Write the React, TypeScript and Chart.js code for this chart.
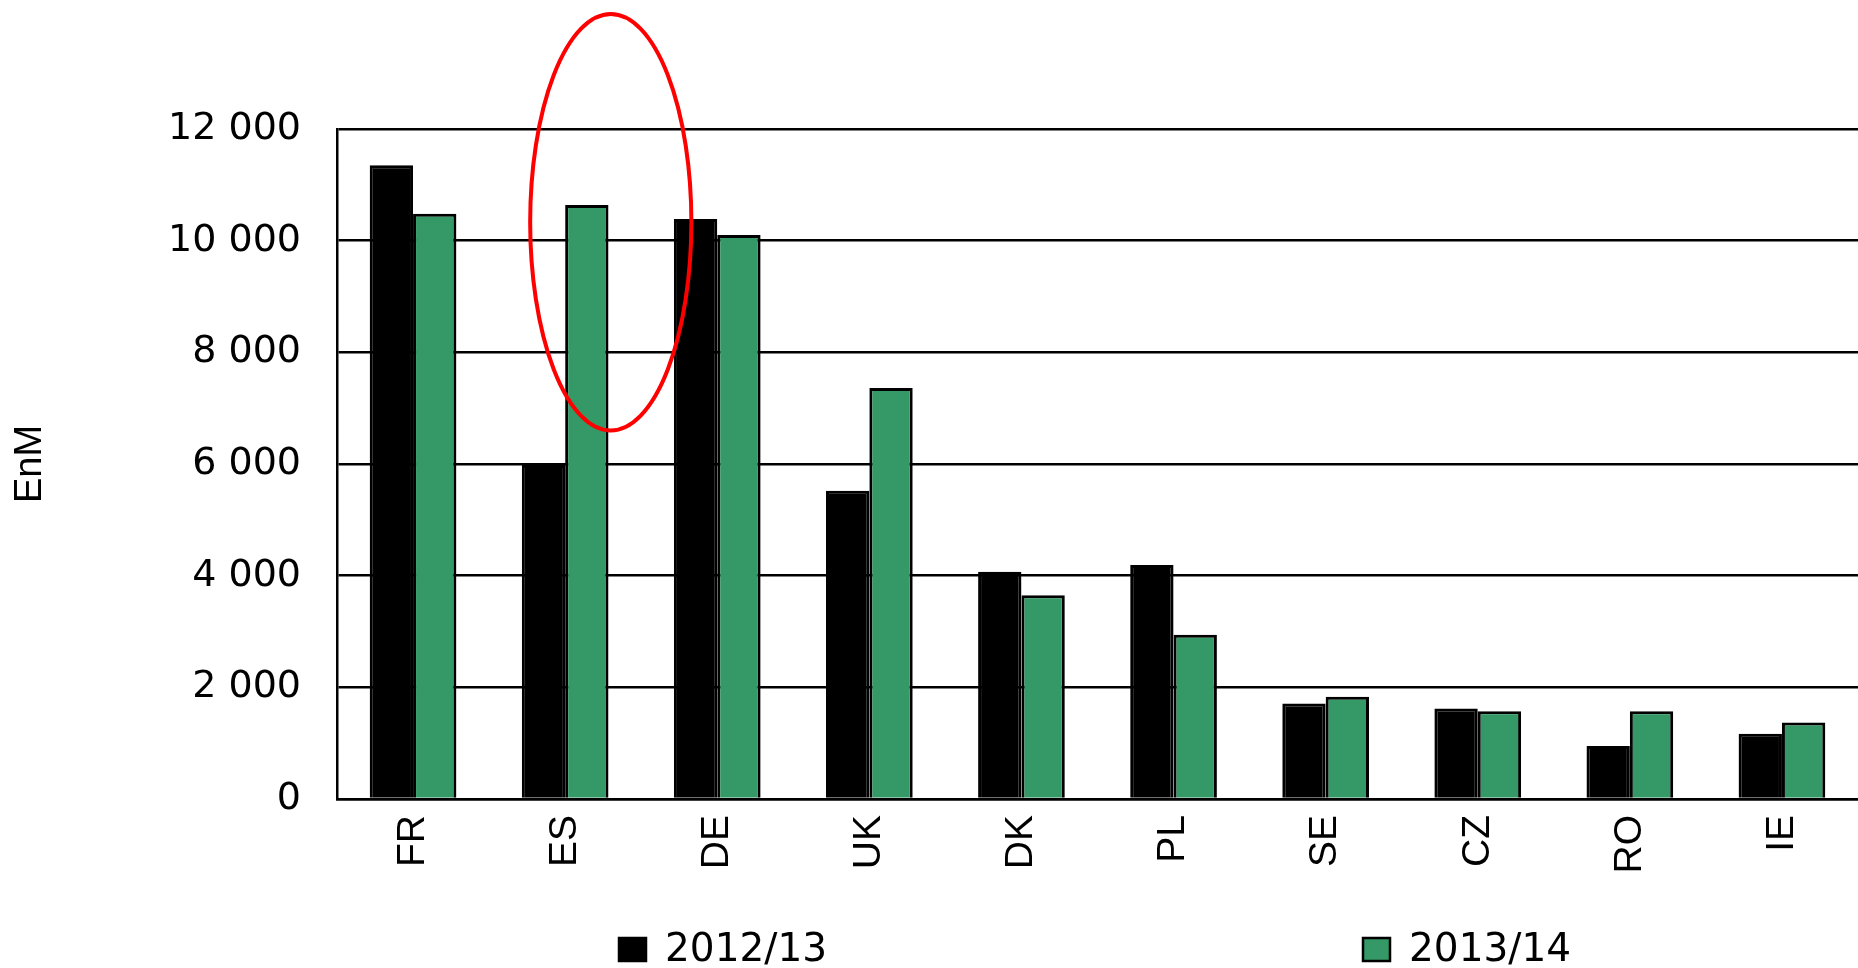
import React, { useEffect, useRef } from 'react';
import { Chart, registerables } from 'chart.js';

Chart.register(...registerables);

const categories = ['FR', 'ES', 'DE', 'UK', 'DK', 'PL', 'SE', 'CZ', 'RO', 'IE'];
const seriesALabel = '2012/13';
const seriesBLabel = '2013/14';
const seriesA = [11350, 5980, 10390, 5520, 4070, 4190, 1710, 1620, 950, 1170];
const seriesB = [10480, 10640, 10100, 7360, 3650, 2940, 1830, 1570, 1570, 1370];
const yMin = 0;
const yMax = 12000;
const yStep = 2000;
const yAxisTitle = 'EnM';
const highlightIndex = 1;

const colorA = '#000000';
const colorB = '#349966';

const fmtThousands = (v: number) => {
  const s = String(Math.round(v));
  return s.length > 3 ? s.slice(0, -3) + ' ' + s.slice(-3) : s;
};

const legendPlugin = {
  id: 'customLegend',
  afterDraw(chart: any) {
    const ctx = chart.ctx;
    const items = [
      { label: seriesALabel, color: colorA, x: 619 },
      { label: seriesBLabel, color: colorB, x: 1363 },
    ];
    ctx.save();
    ctx.font = '39px "DejaVu Sans", "Liberation Sans", sans-serif';
    ctx.textBaseline = 'middle';
    ctx.textAlign = 'left';
    items.forEach((it) => {
      ctx.fillStyle = it.color;
      ctx.strokeStyle = '#000';
      ctx.lineWidth = 2.5;
      ctx.fillRect(it.x, 938, 27, 23);
      ctx.strokeRect(it.x, 938, 27, 23);
      ctx.fillStyle = '#000';
      ctx.fillText(it.label, it.x + 46, 951);
    });
    ctx.restore();
  },
};

const ellipsePlugin = {
  id: 'highlightEllipse',
  afterDatasetsDraw(chart: any) {
    const xs = chart.scales.x;
    const ys = chart.scales.y;
    const cw = (xs.right - xs.left) / categories.length;
    const cx = xs.getPixelForValue(highlightIndex) + 0.3 * cw;
    const cy = ys.getPixelForValue(10330);
    const ry = ys.getPixelForValue(0) - ys.getPixelForValue(3730);
    const rx = 0.53 * cw;
    const ctx = chart.ctx;
    ctx.save();
    ctx.beginPath();
    ctx.ellipse(cx, cy, rx, ry, 0, 0, Math.PI * 2);
    ctx.strokeStyle = '#ff0000';
    ctx.lineWidth = 4;
    ctx.stroke();
    ctx.restore();
  },
};

export default function App() {
  const ref = useRef<HTMLCanvasElement>(null);

  useEffect(() => {
    if (!ref.current) return;
    const chart = new Chart(ref.current, {
      type: 'bar',
      data: {
        labels: categories,
        datasets: [
          {
            label: seriesALabel,
            data: seriesA,
            backgroundColor: colorA,
            borderColor: '#000',
            borderWidth: 3,
            categoryPercentage: 0.57,
            barPercentage: 1,
          },
          {
            label: seriesBLabel,
            data: seriesB,
            backgroundColor: colorB,
            borderColor: '#000',
            borderWidth: 3,
            categoryPercentage: 0.57,
            barPercentage: 1,
          },
        ],
      },
      options: {
        responsive: false,
        animation: false,
        layout: { padding: { top: 129, right: 0, bottom: 0, left: 0 } },
        plugins: {
          legend: { display: false },
          tooltip: { enabled: false },
        },
        scales: {
          x: {
            grid: { display: false, drawTicks: false },
            border: { display: true, color: '#000', width: 2.5 },
            ticks: {
              color: '#000',
              font: { family: '"Liberation Sans", Arial, sans-serif', size: 39 },
              minRotation: 90,
              maxRotation: 90,
              autoSkip: false,
              padding: 16,
            },
            afterFit: (scale: any) => {
              scale.height = 169;
            },
          },
          y: {
            min: yMin,
            max: yMax,
            grid: { color: '#000', lineWidth: 2.5, drawTicks: false },
            border: { display: true, color: '#000', width: 2.5 },
            ticks: {
              stepSize: yStep,
              color: '#000',
              font: { family: '"DejaVu Sans", sans-serif', size: 38 },
              padding: 36,
              callback: (v: any) => fmtThousands(Number(v)),
            },
            title: {
              display: true,
              text: yAxisTitle,
              color: '#000',
              font: { family: '"Liberation Sans", Arial, sans-serif', size: 38 },
              padding: { top: 8, bottom: 0 },
            },
            afterFit: (scale: any) => {
              scale.width = 337;
            },
          },
        },
      },
      plugins: [ellipsePlugin, legendPlugin],
    });
    return () => chart.destroy();
  }, []);

  return (
    <div style={{ position: 'absolute', left: 0, top: 0, width: 1858, height: 968, background: '#fff' }}>
      <canvas ref={ref} width={1858} height={968} style={{ display: 'block' }} />
    </div>
  );
}
